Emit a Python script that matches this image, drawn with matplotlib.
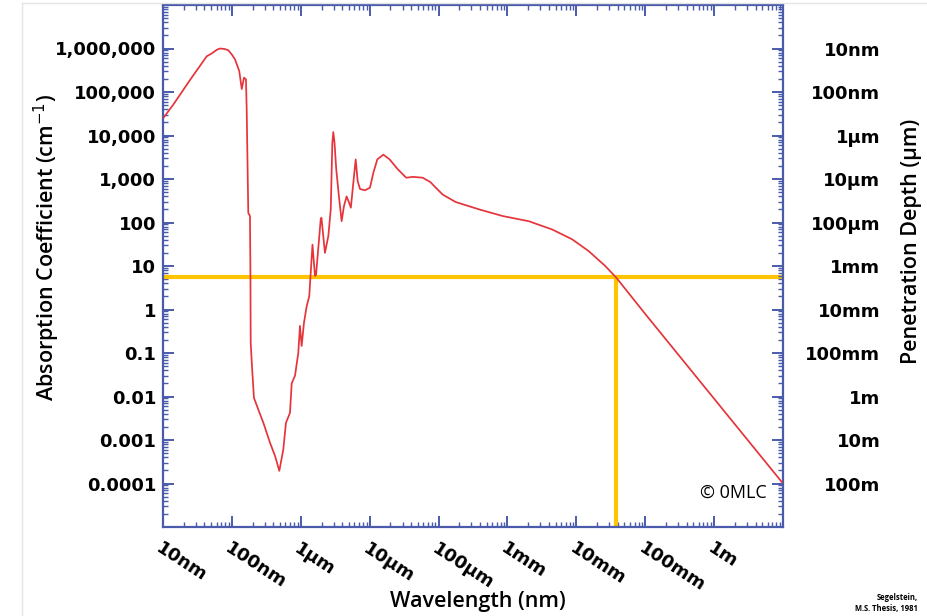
import matplotlib
matplotlib.use("Agg")
import matplotlib.pyplot as plt
from matplotlib.ticker import FixedLocator, LogLocator, NullFormatter
from matplotlib.lines import Line2D

# ---------------- data ----------------
wavelength_nm = [10.2, 14.1, 24.5, 43.1, 50.9, 60.3, 67.1, 77.6, 88.7, 100, 111, 128,
                 139, 150, 160, 164, 173, 183, 186, 187.5, 195, 209, 242, 286, 357,
                 423, 488, 557, 610, 697, 738, 824, 920, 973, 1030, 1112, 1219, 1327,
                 1479, 1607, 1667, 1945, 1995, 2244, 2512, 2723, 2871, 2965, 3090,
                 3273, 3581, 3917, 4227, 4624, 5047, 5333, 5754, 6266, 6699, 7244,
                 8551, 10100, 11300, 12900, 15800, 19500, 25700, 34000, 42500, 58900,
                 76000, 91200, 115000, 178000, 389000, 851000, 2.04e6, 4.47e6, 8.71e6,
                 1.51e7, 2.63e7, 3.8e7, 1e8, 1e9, 1e10]
absorption_cm = [25700, 51300, 186000, 661000, 767000, 933000, 1.0e6, 977000, 912000,
                 724000, 562000, 302000, 117000, 214000, 195000, 39800, 166, 141, 5.9,
                 0.17, 0.055, 0.0093, 0.005, 0.0025, 0.00087, 0.00043, 0.000195,
                 0.0006, 0.0025, 0.0042, 0.020, 0.030, 0.10, 0.42, 0.145, 0.49, 1.2,
                 2.0, 31, 5.9, 6.3, 117, 129, 20, 49, 200, 6760, 12000, 6760, 1660,
                 398, 107, 234, 398, 282, 219, 741, 2820, 891, 589, 550, 631, 1380,
                 2820, 3630, 2820, 1660, 1070, 1120, 1070, 850, 631, 437, 295, 200,
                 141, 107, 69, 41, 22, 10, 5.4, 0.79, 0.0089, 1.0e-4]

x_tick_values = [1e1, 1e2, 1e3, 1e4, 1e5, 1e6, 1e7, 1e8, 1e9]
x_tick_labels = ["10nm", "100nm", "1µm", "10µm", "100µm", "1mm", "10mm", "100mm", "1m"]
y_tick_values = [1e6, 1e5, 1e4, 1e3, 1e2, 1e1, 1, 0.1, 0.01, 0.001, 0.0001]
y_tick_labels = ["1,000,000", "100,000", "10,000", "1,000", "100", "10", "1",
                 "0.1", "0.01", "0.001", "0.0001"]
depth_tick_labels = ["10nm", "100nm", "1µm", "10µm", "100µm", "1mm", "10mm",
                     "100mm", "1m", "10m", "100m"]
marker_absorption = 5.5       # horizontal yellow guide
marker_wavelength = 3.8e7     # vertical yellow guide (nm)

# ---------------- styling ----------------
W, H = 928, 616
DPI = 100
BLUE = "#4a5bab"
RED = "#e5343a"
YELLOW = "#ffc400"
TICKFONT = dict(family="DejaVu Sans", weight="bold", size=13)

fig = plt.figure(figsize=(W / DPI, H / DPI), dpi=DPI)
fig.patch.set_facecolor("white")

L, R, T, B = 163, 783, 5, 527
ax = fig.add_axes([L / W, 1 - B / H, (R - L) / W, (B - T) / H])
ax.set_xscale("log")
ax.set_yscale("log")
ax.set_xlim(1e1, 1e10)
ax.set_ylim(1e-5, 1e7)

ax.plot(wavelength_nm, absorption_cm, color=RED, lw=1.25, zorder=3)
ax.axhline(marker_absorption, color=YELLOW, lw=3, zorder=2)
ax.plot([marker_wavelength, marker_wavelength], [1e-5, marker_absorption],
        color=YELLOW, lw=3, zorder=2, solid_capstyle="butt")

for s in ax.spines.values():
    s.set_color(BLUE)
    s.set_linewidth(1.6)

# x ticks
ax.xaxis.set_major_locator(FixedLocator(x_tick_values))
ax.set_xticklabels(x_tick_labels, **TICKFONT)
ax.xaxis.set_minor_locator(LogLocator(base=10, subs=range(2, 10), numticks=100))
ax.xaxis.set_minor_formatter(NullFormatter())
for lab in ax.get_xticklabels():
    lab.set_rotation(-33)
    lab.set_ha("left")
    lab.set_va("top")
    lab.set_rotation_mode("anchor")

# y ticks (left)
ax.yaxis.set_major_locator(FixedLocator(y_tick_values))
ax.set_yticklabels(y_tick_labels, **TICKFONT)
ax.yaxis.set_minor_locator(LogLocator(base=10, subs=range(2, 10), numticks=100))
ax.yaxis.set_minor_formatter(NullFormatter())

ax.tick_params(which="both", direction="in", top=True, right=False, colors=BLUE,
               labelcolor="black")
ax.tick_params(which="major", length=8, width=1.4)
ax.tick_params(which="minor", length=3.5, width=1.0)
ax.tick_params(axis="x", which="major", pad=9)
ax.tick_params(axis="y", which="major", pad=5)

# right axis: penetration depth
ax2 = ax.twinx()
ax2.set_yscale("log")
ax2.set_ylim(ax.get_ylim())
ax2.yaxis.set_major_locator(FixedLocator(y_tick_values))
ax2.set_yticklabels(depth_tick_labels, **TICKFONT)
ax2.yaxis.set_minor_locator(LogLocator(base=10, subs=range(2, 10), numticks=100))
ax2.yaxis.set_minor_formatter(NullFormatter())
ax2.tick_params(which="both", direction="in", colors=BLUE, labelcolor="black")
ax2.tick_params(which="major", length=8, width=1.4, pad=70)
ax2.tick_params(which="minor", length=3.5, width=1.0)
for lab in ax2.get_yticklabels():
    lab.set_ha("right")
for s in ax2.spines.values():
    s.set_visible(False)

# axis titles
LABELFONT = dict(family="Open Sans", weight="semibold", size=15.5)
fig.text(47 / W, 1 - 247 / H, "Absorption Coefficient (cm$^{-1}$)", rotation=90,
         ha="center", va="center", **LABELFONT)
fig.text(912 / W, 1 - 241 / H, "Penetration Depth (µm)", rotation=90,
         ha="center", va="center", **LABELFONT)
fig.text(478 / W, 1 - 602 / H, "Wavelength (nm)", ha="center", va="center",
         **LABELFONT)

ax.text(0.974, 0.065, "© 0MLC", transform=ax.transAxes, ha="right", va="center",
        family="Open Sans", size=13)

fig.text(918 / W, 1 - 598 / H, "Segelstein,", ha="right", va="center",
         family="Open Sans", weight="bold", size=5.5)
fig.text(918 / W, 1 - 609 / H, "M.S. Thesis, 1981", ha="right", va="center",
         family="Open Sans", weight="bold", size=5.5)

# faint scan border
fig.add_artist(Line2D([22 / W, 22 / W], [0, 1 - 3 / H], transform=fig.transFigure,
                      color="#e4e4e4", lw=1))
fig.add_artist(Line2D([22 / W, 1], [1 - 3 / H, 1 - 3 / H], transform=fig.transFigure,
                      color="#e4e4e4", lw=1))

fig.savefig("out.png", dpi=DPI)
